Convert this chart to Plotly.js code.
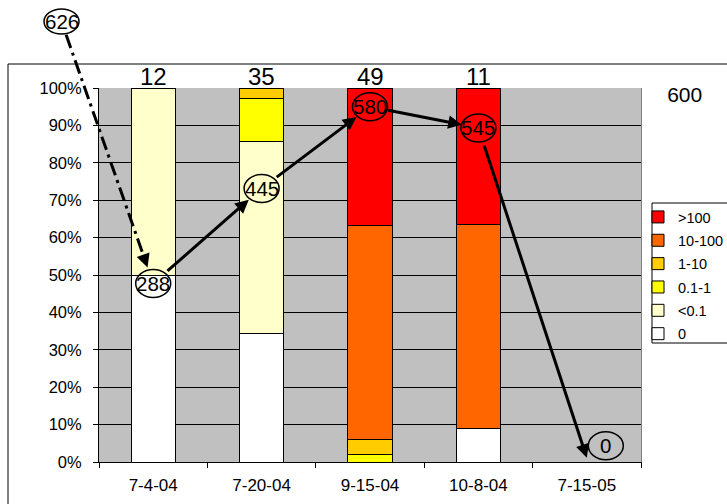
<!DOCTYPE html>
<html>
<head>
<meta charset="utf-8">
<script src="https://cdn.plot.ly/plotly-3.0.1.min.js"></script>
<style>
  html, body { margin: 0; padding: 0; background: #fff; }
  #chart { width: 727px; height: 504px; }
</style>
</head>
<body>
<div id="chart"></div>
<script>
// Sampling dates
const categories = ['7-4-04', '7-20-04', '9-15-04', '10-8-04', '7-15-05'];

// Number of samples in each concentration class, per date
const cls0      = [6, 12, 0, 1, 0];
const clsLt01   = [6, 18, 0, 0, 0];
const cls01to1  = [0, 4, 1, 0, 0];
const cls1to10  = [0, 1, 2, 0, 0];
const cls10to100 = [0, 0, 28, 6, 0];
const clsGt100  = [0, 0, 18, 4, 0];

const classNames = ['0', '<0.1', '0.1-1', '1-10', '10-100', '>100'];

// Circled values per date, and the earlier value the sequence starts from
const circledValues = [288, 445, 580, 545, 0];
const startValue = 626;

// Secondary scale for the circled values
const secondaryTick = 600;
const y2Range = [-7, 611];

const yTicks = [0, 10, 20, 30, 40, 50, 60, 70, 80, 90, 100];

const W = 727, H = 504;
const M = { l: 99, r: 86, t: 88, b: 42, autoexpand: false };
const plotW = W - M.l - M.r;
const plotH = H - M.t - M.b;

const FONT = 'Liberation Sans, Arial, sans-serif';

const classData = [cls0, clsLt01, cls01to1, cls1to10, cls10to100, clsGt100];
const classColors = ['#FFFFFF', '#FFFFCC', '#FFFF00', '#FFCC00', '#FF6600', '#FF0000'];

// Stacked from the lowest class up; legend lists the highest class first
const traces = classData.map((vals, k) => ({
  type: 'bar',
  name: classNames[k],
  x: categories,
  y: vals,
  legendgroup: 'g' + k,
  legendrank: classData.length - k,
  marker: { color: classColors[k], line: { color: '#000', width: 1 } },
  hoverinfo: 'skip'
}));

// Circled values on the secondary scale (markers themselves invisible)
traces.push({
  type: 'scatter',
  mode: 'markers',
  x: categories,
  y: circledValues,
  yaxis: 'y2',
  marker: { opacity: 0 },
  showlegend: false,
  hoverinfo: 'skip'
});

const totals = categories.map((_, i) => classData.reduce((s, arr) => s + arr[i], 0));

const annotations = [];
const shapes = [];

// Sample counts above each bar
totals.forEach((n, i) => {
  if (n > 0) {
    annotations.push({
      x: i, y: 100, xref: 'x', yref: 'y',
      text: String(n), showarrow: false,
      xanchor: 'center', yanchor: 'bottom', yshift: -4,
      font: { family: FONT, size: 24, color: '#000' }
    });
  }
});

// Offsets of the circled label relative to its point (only the last one is moved aside)
const labelShift = circledValues.map((v, i) => (i === circledValues.length - 1 ? [19, 12] : [0, 0]));
const RX = 17.5, RY = 14;
const circleFont = { family: FONT, size: 20.5, color: '#000' };
const ARROW_W = 3;

circledValues.forEach((v, i) => {
  const [dx, dy] = labelShift[i];
  annotations.push({
    x: i, y: v, xref: 'x', yref: 'y2',
    text: String(v), showarrow: false,
    xanchor: 'center', yanchor: 'middle',
    xshift: dx, yshift: dy,
    font: circleFont
  });
  shapes.push({
    type: 'circle', xref: 'x', yref: 'y2',
    xsizemode: 'pixel', ysizemode: 'pixel',
    xanchor: i, yanchor: v,
    x0: dx - RX, x1: dx + RX, y0: dy - RY, y1: dy + RY,
    line: { color: '#000', width: 1.5 },
    fillcolor: 'rgba(0,0,0,0)'
  });
});

// Arrows from each circled value to the next
for (let i = 0; i < circledValues.length - 1; i++) {
  const last = i + 1 === circledValues.length - 1;
  annotations.push({
    x: i + 1, y: circledValues[i + 1], xref: 'x', yref: 'y2',
    ax: i, ay: circledValues[i], axref: 'x', ayref: 'y2',
    text: '', showarrow: true,
    arrowhead: 2, arrowsize: 0.9, arrowwidth: ARROW_W, arrowcolor: '#000',
    standoff: last ? 0 : 17, startstandoff: 17
  });
}

// Starting value sits above the plot, linked to the first date by a dash-dot arrow
const pxX = i => M.l + (i + 0.5) / categories.length * plotW;
const pxY2 = v => M.t + (1 - (v - y2Range[0]) / (y2Range[1] - y2Range[0])) * plotH;
const toPaperX = px => (px - M.l) / plotW;
const toPaperY = py => (M.t + plotH - py) / plotH;

const startPx = [61.5, 21.5];
const firstPx = [pxX(0), pxY2(circledValues[0])];
const dxs = firstPx[0] - startPx[0], dys = firstPx[1] - startPx[1];
const len = Math.hypot(dxs, dys);
const ux = dxs / len, uy = dys / len;
const headStand = 17, headLen = 13;

annotations.push({
  x: toPaperX(startPx[0]), y: toPaperY(startPx[1]), xref: 'paper', yref: 'paper',
  text: String(startValue), showarrow: false,
  xanchor: 'center', yanchor: 'middle',
  font: circleFont
});
shapes.push({
  type: 'circle', xref: 'paper', yref: 'paper',
  xsizemode: 'pixel', ysizemode: 'pixel',
  xanchor: toPaperX(startPx[0]), yanchor: toPaperY(startPx[1]),
  x0: -RX, x1: RX, y0: -12.5, y1: 12.5,
  line: { color: '#000', width: 1.5 },
  fillcolor: 'rgba(0,0,0,0)'
});
shapes.push({
  type: 'line', xref: 'paper', yref: 'paper',
  x0: toPaperX(startPx[0] + ux * 14), y0: toPaperY(startPx[1] + uy * 14),
  x1: toPaperX(firstPx[0] - ux * (headStand + headLen)), y1: toPaperY(firstPx[1] - uy * (headStand + headLen)),
  line: { color: '#000', width: ARROW_W, dash: '14px,5px,3px,5px' }
});
annotations.push({
  x: 0, y: circledValues[0], xref: 'x', yref: 'y2',
  ax: -ux * (headStand + headLen), ay: -uy * (headStand + headLen),
  text: '', showarrow: true,
  arrowhead: 2, arrowsize: 0.9, arrowwidth: ARROW_W, arrowcolor: '#000',
  standoff: headStand
});

// Outer chart frame
shapes.push({
  type: 'rect', xref: 'paper', yref: 'paper',
  x0: toPaperX(8), x1: toPaperX(760), y0: toPaperY(64), y1: toPaperY(540),
  line: { color: '#000', width: 1 }, fillcolor: 'rgba(0,0,0,0)'
});
// Legend box
shapes.push({
  type: 'rect', xref: 'paper', yref: 'paper',
  x0: toPaperX(652), x1: toPaperX(760), y0: toPaperY(203), y1: toPaperY(343),
  line: { color: '#000', width: 1 }, fillcolor: '#FFFFFF'
});

const layout = {
  width: W, height: H,
  margin: M,
  paper_bgcolor: '#FFFFFF',
  plot_bgcolor: '#C0C0C0',
  barmode: 'stack',
  barnorm: 'percent',
  bargap: 0.593,
  showlegend: true,
  legend: {
    x: toPaperX(638), y: toPaperY(201), xanchor: 'left', yanchor: 'top',
    bgcolor: 'rgba(0,0,0,0)', borderwidth: 0,
    traceorder: 'grouped', tracegroupgap: 1.5,
    font: { family: FONT, size: 14.5, color: '#000' }
  },
  xaxis: {
    type: 'category', range: [-0.5, 4.5],
    showline: true, linecolor: '#000', linewidth: 1,
    ticks: 'outside', tickson: 'boundaries', ticklen: 5, tickcolor: '#000',
    tickfont: { family: FONT, size: 17, color: '#000' },
    ticklabelstandoff: 8,
    showgrid: false, zeroline: false, fixedrange: true, automargin: false
  },
  yaxis: {
    range: [0, 100], tickmode: 'array', tickvals: yTicks,
    ticktext: yTicks.map(v => v + '%'),
    showline: true, linecolor: '#000', linewidth: 1,
    ticks: 'outside', ticklen: 5, tickcolor: '#000',
    tickfont: { family: FONT, size: 16.5, color: '#000' },
    ticklabelstandoff: 8,
    showgrid: true, gridcolor: '#000', gridwidth: 1,
    zeroline: false, fixedrange: true, automargin: false
  },
  yaxis2: {
    overlaying: 'y', side: 'right', range: y2Range,
    tickmode: 'array', tickvals: [secondaryTick], ticktext: [String(secondaryTick)],
    ticks: '', showgrid: false, zeroline: false,
    showline: true, linecolor: '#808080', linewidth: 1,
    tickfont: { family: FONT, size: 21, color: '#000' },
    ticklabelstandoff: 21, fixedrange: true, automargin: false
  },
  annotations: annotations,
  shapes: shapes
};

Plotly.newPlot('chart', traces, layout, { displayModeBar: false, staticPlot: true });
</script>
</body>
</html>
